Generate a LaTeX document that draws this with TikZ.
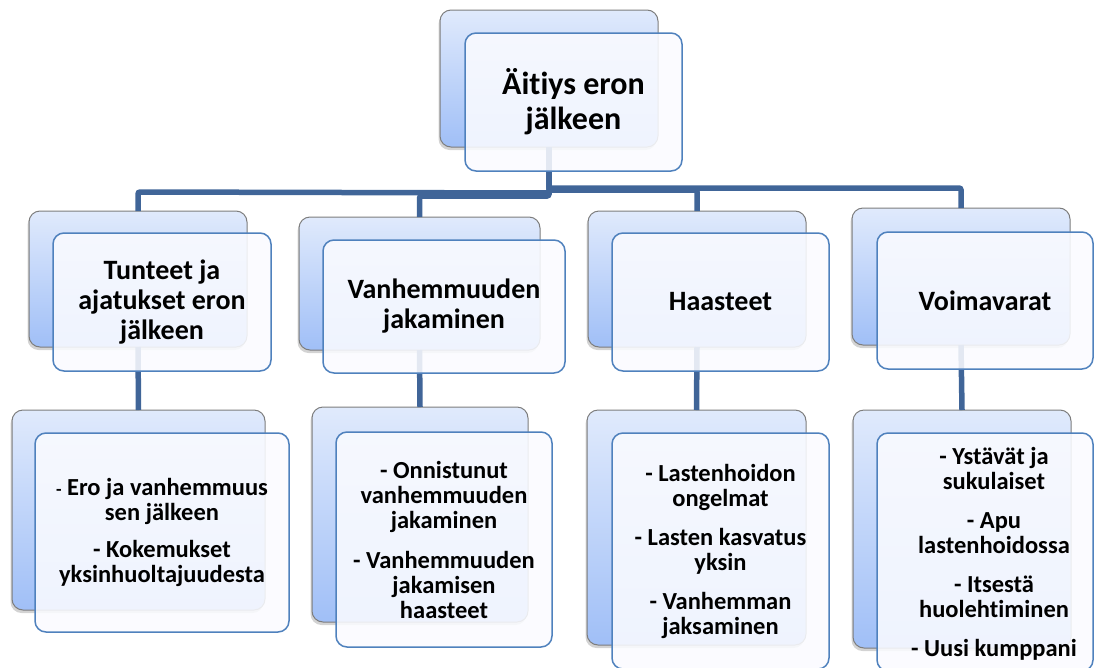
\documentclass[tikz,border=0pt]{standalone}
\usepackage{fontspec}
\setmainfont{Carlito}[RawFeature=-liga]
\usetikzlibrary{shadows,calc}
\definecolor{conn}{RGB}{64,101,152}
\definecolor{frontline}{RGB}{79,129,189}
\definecolor{backline}{RGB}{125,125,125}
\definecolor{bktop}{RGB}{224,234,252}
\definecolor{bkbot}{RGB}{160,191,247}
\definecolor{frontfill}{RGB}{250,251,255}
\newcommand{\fsTop}{\fontsize{32}{35}\selectfont\bfseries}
\newcommand{\fsMid}{\fontsize{28}{30}\selectfont\bfseries}
\newcommand{\fsLow}{\fontsize{24.5}{25}\selectfont\bfseries}
\tikzset{
  backbox/.style={draw=backline, line width=1pt, rounded corners=11pt,
    top color=bktop, bottom color=bkbot, anchor=north west,
    inner sep=0pt, outer sep=0pt,
    drop shadow={shadow xshift=-1.5pt, shadow yshift=-3pt, opacity=0.35}},
  frontbox/.style={draw=frontline, line width=1.5pt, rounded corners=11pt,
    fill=frontfill, fill opacity=0.88, text opacity=1, draw opacity=1,
    anchor=north west, align=center, inner sep=1pt, outer sep=0pt},
  boxtext/.style={align=center, inner sep=0pt, font=\fsLow},
  conn/.style={draw=conn, line width=5.5pt, rounded corners=2pt}
}
\begin{document}
\begin{tikzpicture}[x=1pt,y=-1pt]
\useasboundingbox (0,0) rectangle (1095,667);
\clip (0,0) rectangle (1095,667);
% back boxes
\node[backbox, minimum width=218, minimum height=137] (b0) at (440,10) {};
\node[backbox, minimum width=218, minimum height=136] (b1) at (29,211) {};
\node[backbox, minimum width=241, minimum height=133] (b2) at (299,217) {};
\node[backbox, minimum width=218, minimum height=136] (b3) at (588,211) {};
\node[backbox, minimum width=218, minimum height=137] (b4) at (852,208) {};
\node[backbox, minimum width=253, minimum height=200] (c1) at (12,410) {};
\node[backbox, minimum width=216, minimum height=215] (c2) at (312,407) {};
\node[backbox, minimum width=219, minimum height=235] (c3) at (587,410) {};
\node[backbox, minimum width=218, minimum height=238] (c4) at (853,410) {};
% connectors
\draw[conn] (b0.south) -- (b0.south |- 0,193) -- (b1.north |- 0,192) -- (b1.north);
\draw[conn] (b0.south) -- (b0.south |- 0,196) -- (b2.north |- 0,196) -- (b2.north);
\draw[conn] (b0.south) -- (b0.south |- 0,190) -- (b3.north |- 0,190) -- (b3.north);
\draw[conn] (b0.south) -- (b0.south |- 0,188) -- (b4.north |- 0,188) -- (b4.north);
\draw[conn] (b1.south) -- (c1.north);
\draw[conn] (b2.south) -- (c2.north);
\draw[conn] (b3.south) -- (c3.north);
\draw[conn] (b4.south) -- (c4.north);
% front boxes
\node[frontbox, minimum width=217, minimum height=138, font=\fsTop] (f0) at (465,33) {Äitiys eron\\jälkeen};
\node[frontbox, minimum width=218, minimum height=138, font=\fsMid] (f1) at (53,233) {Tunteet ja\\ajatukset eron\\jälkeen};
\node[frontbox, minimum width=242, minimum height=133, font=\fsMid] (f2) at (323,240) {Vanhemmuuden\\jakaminen};
\node[frontbox, minimum width=217, minimum height=138, font=\fsMid] (f3) at (612,233) {Haasteet};
\node[frontbox, minimum width=216, minimum height=137, font=\fsMid] (f4) at (877,232) {Voimavarat};
\node[frontbox, minimum width=254, minimum height=199, font=\fsLow] (g1) at (35,433)
  {{\fontsize{18}{18}\selectfont -} Ero ja vanhemmuus\\sen jälkeen\\[12pt]- Kokemukset\\yksinhuoltajuudesta};
\node[frontbox, minimum width=216, minimum height=215, font=\fsLow] (g2) at (336,432)
  {- Onnistunut\\vanhemmuuden\\jakaminen\\[15pt]- Vanhemmuuden\\jakamisen\\haasteet};
\node[frontbox, minimum width=217, minimum height=236, font=\fsLow] (g3) at (612,433)
  {- Lastenhoidon\\ongelmat\\[14pt]- Lasten kasvatus\\yksin\\[14pt]- Vanhemman\\jaksaminen};
\node[frontbox, minimum width=216, minimum height=238] (g4) at (877,433) {};
\node[boxtext] (t4) at ($(g4.center)+(9,2)$)
  {- Ystävät ja\\sukulaiset\\[14pt]- Apu\\lastenhoidossa\\[14pt]- Itsestä\\huolehtiminen\\[14pt]- Uusi kumppani};
\end{tikzpicture}
\end{document}
